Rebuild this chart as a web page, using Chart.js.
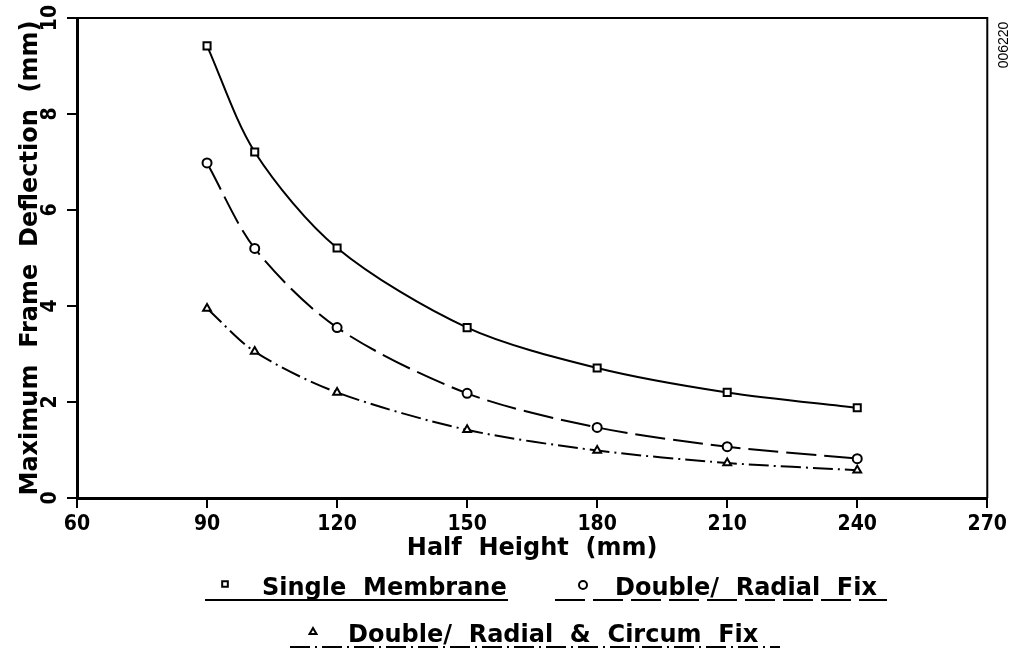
<!DOCTYPE html>
<html>
<script src="https://cdn.jsdelivr.net/npm/chart.js@4/dist/chart.umd.min.js"></script>
<body style="margin:0;background:#fff">

<div style="width:1011px;height:652px">
<canvas id="deflectionChart"></canvas>
</div>

<script>

    // half height of the frame (mm), x values shared by the three curves
    let halfHeight = [90, 101, 120, 150, 180, 210, 240];

    // maximum frame deflection (mm) for each membrane arrangement
    let singleMembrane = [9.42, 7.21, 5.21, 3.55, 2.71, 2.2, 1.88];
    let doubleRadialFix = [6.98, 5.2, 3.55, 2.18, 1.47, 1.07, 0.82];
    let doubleCircumFix = [3.95, 3.05, 2.2, 1.42, 0.99, 0.73, 0.58];

    let seriesNames = ["Single  Membrane", "Double/  Radial  Fix", "Double/  Radial  &  Circum  Fix"];
    let markerStyles = ["rect", "circle", "triangle"];
    let dashStyles = [[], [30, 8], [20, 5, 2, 5]];

    let xTicks = [60, 90, 120, 150, 180, 210, 240, 270];
    let yTicks = [0, 2, 4, 6, 8, 10];

    let titleFont = "bold 24px 'DejaVu Sans'";
    let tickFont = {family: "'DejaVu Sans Condensed', 'DejaVu Sans'", size: 21, weight: "bold"};

    function toPoints(values) {
        return values.map((v, i) => ({x: halfHeight[i], y: v}));
    }

    function makeDataset(i, values) {
        return {
            label: seriesNames[i],
            data: toPoints(values),
            borderColor: "#000",
            borderWidth: 2,
            borderDash: dashStyles[i],
            backgroundColor: "#fff",
            pointStyle: markerStyles[i],
            pointRadius: i == 0 ? 5 : 4.5,
            pointBorderWidth: 2,
            pointBackgroundColor: "#fff",
            pointBorderColor: "#000",
            tension: 0.3,
            fill: false
        };
    }

    // frame top/right, rotated y labels, legend with underlines, file number
    let extras = {
        id: "extras",
        afterDraw(chart) {
            let ctx = chart.ctx;
            let area = chart.chartArea;
            let yScale = chart.scales.y;
            ctx.save();

            ctx.strokeStyle = "#000";
            ctx.lineWidth = 2;
            ctx.beginPath();
            ctx.moveTo(area.left, area.top);
            ctx.lineTo(area.right, area.top);
            ctx.lineTo(area.right, area.bottom);
            ctx.stroke();

            // y tick labels read bottom to top
            ctx.fillStyle = "#000";
            ctx.font = "bold 21px 'DejaVu Sans Condensed', 'DejaVu Sans'";
            ctx.textAlign = "center";
            ctx.textBaseline = "middle";
            yTicks.forEach(t => {
                ctx.save();
                ctx.translate(51, yScale.getPixelForValue(t));
                ctx.rotate(-Math.PI / 2);
                ctx.fillText(String(t), 0, 0);
                ctx.restore();
            });

            // legend
            let rows = [
                {mx: 225, my: 584, tx: 262, ty: 595, ux: 205, uy: 600, ue: 508},
                {mx: 583, my: 585, tx: 615, ty: 595, ux: 555, uy: 600, ue: 887},
                {mx: 313, my: 632, tx: 348, ty: 642, ux: 290, uy: 647, ue: 780}
            ];
            ctx.textAlign = "left";
            ctx.textBaseline = "alphabetic";
            rows.forEach((r, i) => {
                ctx.fillStyle = "#fff";
                ctx.strokeStyle = "#000";
                Chart.helpers.drawPoint(ctx, {pointStyle: markerStyles[i], radius: 4, borderWidth: 1.5}, r.mx, r.my);
                ctx.fillStyle = "#000";
                ctx.font = titleFont;
                ctx.fillText(seriesNames[i], r.tx, r.ty);
                ctx.setLineDash(dashStyles[i]);
                ctx.lineWidth = 2;
                ctx.beginPath();
                ctx.moveTo(r.ux, r.uy);
                ctx.lineTo(r.ue, r.uy);
                ctx.stroke();
                ctx.setLineDash([]);
            });

            // file number on the right margin
            ctx.font = "14px 'Liberation Sans'";
            ctx.textAlign = "center";
            ctx.textBaseline = "middle";
            ctx.translate(1004, 45);
            ctx.rotate(-Math.PI / 2);
            ctx.fillText("006220", 0, 0);
            ctx.restore();
        }
    };

    new Chart("deflectionChart", {
        type: "line",
        data: {
            datasets: [
                makeDataset(0, singleMembrane),
                makeDataset(1, doubleRadialFix),
                makeDataset(2, doubleCircumFix)
            ]
        },
        options: {
            responsive: true,
            maintainAspectRatio: false,
            animation: false,
            layout: {padding: {top: 18, right: 22, left: 0, bottom: 0}},
            plugins: {
                legend: {display: false},
                tooltip: {enabled: false}
            },
            scales: {
                x: {
                    type: "linear",
                    min: 60,
                    max: 270,
                    afterBuildTicks: s => { s.ticks = xTicks.map(v => ({value: v})); },
                    afterFit: s => { s.height = 154; },
                    border: {display: true, color: "#000", width: 3},
                    grid: {drawOnChartArea: false, drawTicks: true, tickLength: 10, color: "#000", lineWidth: 2},
                    ticks: {color: "#000", font: tickFont, padding: 4, maxRotation: 0},
                    title: {
                        display: true,
                        text: "Half  Height  (mm)",
                        color: "#000",
                        font: {family: "'DejaVu Sans'", size: 24, weight: "bold"},
                        padding: {top: 0, bottom: 89}
                    }
                },
                y: {
                    min: 0,
                    max: 10,
                    afterBuildTicks: s => { s.ticks = yTicks.map(v => ({value: v})); },
                    afterFit: s => { s.width = 77; },
                    border: {display: true, color: "#000", width: 3},
                    grid: {drawOnChartArea: false, drawTicks: true, tickLength: 10, color: "#000", lineWidth: 2},
                    ticks: {display: false},
                    title: {
                        display: true,
                        text: "Maximum  Frame  Deflection  (mm)",
                        color: "#000",
                        font: {family: "'DejaVu Sans'", size: 24, weight: "bold"},
                        padding: {top: 16, bottom: 0}
                    }
                }
            }
        },
        plugins: [extras]
    });

</script>
</body>
</html>
